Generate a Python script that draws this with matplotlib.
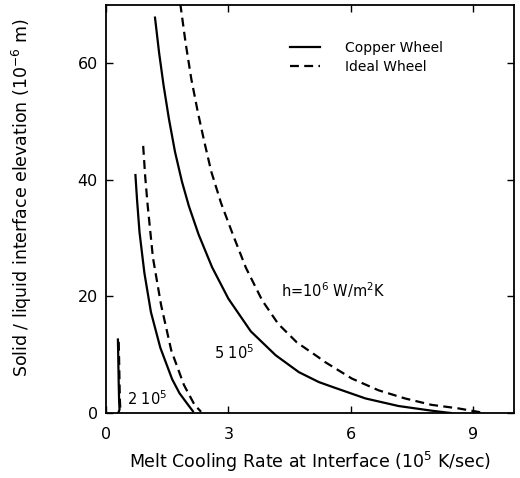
import numpy as np
import matplotlib.pyplot as plt

# ------------------------------------------------------------
# Data (x: 1e5 K/sec, y: 1e-6 m)
# ------------------------------------------------------------
# h = 1e6 W/m2K
cu_1e6_x = [1.20, 1.30, 1.41, 1.54, 1.69, 1.86, 2.03, 2.27, 2.60, 3.00, 3.55, 4.16,
            4.73, 5.22, 5.54, 6.36, 7.17, 7.98, 8.39, 8.46]
cu_1e6_y = [67.8, 61.8, 56.2, 50.5, 44.8, 39.7, 35.5, 30.6, 25.0, 19.6, 14.0, 9.9,
            7.0, 5.3, 4.5, 2.5, 1.2, 0.4, 0.05, 0.0]
id_1e6_x = [1.82, 1.95, 2.09, 2.25, 2.41, 2.58, 2.82, 3.11, 3.43, 3.83, 4.22, 4.68,
            5.18, 5.38, 6.03, 6.68, 7.33, 7.98, 8.63, 9.12, 9.30]
id_1e6_y = [70.2, 63.5, 57.3, 51.6, 46.5, 41.4, 36.0, 30.6, 24.9, 19.3, 15.3, 12.1,
            9.7, 8.7, 5.9, 3.9, 2.5, 1.4, 0.8, 0.2, 0.0]

# h = 5e5
cu_5e5_x = [0.72, 0.76, 0.82, 0.94, 1.10, 1.33, 1.62, 1.80, 1.99, 2.13]
cu_5e5_y = [40.8, 36.5, 31.0, 24.0, 17.3, 11.2, 5.8, 3.4, 1.6, 0.3]
id_5e5_x = [0.91, 0.96, 1.02, 1.15, 1.35, 1.60, 1.91, 2.17, 2.33]
id_5e5_y = [45.8, 40.5, 35.6, 26.6, 18.5, 10.7, 4.8, 1.4, 0.2]

# h = 2e5
cu_2e5_x = [0.29, 0.30, 0.31, 0.32, 0.33, 0.30]
cu_2e5_y = [12.6, 9.0, 5.0, 2.0, 0.6, 0.0]
id_2e5_x = [0.31, 0.32, 0.33, 0.34, 0.35, 0.36]
id_2e5_y = [12.2, 9.0, 5.0, 2.0, 0.6, 0.0]

x_ticks = [0, 3, 6, 9]
y_ticks = [0, 20, 40, 60]

fig = plt.figure(figsize=(5.2, 4.78), dpi=100)
ax = fig.add_axes([0.204, 0.136, 0.784, 0.854])

DASH = (0, (4, 2.4))
LW = 1.6

ax.plot(cu_1e6_x, cu_1e6_y, color='black', lw=LW, label='Copper Wheel')
ax.plot(id_1e6_x, id_1e6_y, color='black', lw=LW, linestyle=DASH, label='Ideal Wheel')
ax.plot(cu_5e5_x, cu_5e5_y, color='black', lw=LW)
ax.plot(id_5e5_x, id_5e5_y, color='black', lw=LW, linestyle=DASH)
ax.plot(cu_2e5_x, cu_2e5_y, color='black', lw=LW)
ax.plot(id_2e5_x, id_2e5_y, color='black', lw=LW, linestyle=DASH)

# curve labels
ax.text(4.3, 21, r'h=10$^6$ W/m$^2$K', fontsize=10.5, va='center')
ax.text(2.65, 10.3, r'5 10$^5$', fontsize=10.5, va='center')
ax.text(0.52, 2.5, r'2 10$^5$', fontsize=10.5, va='center')

ax.set_xlim(0, 10)
ax.set_ylim(0, 70)
ax.set_xticks(x_ticks)
ax.set_yticks(y_ticks)
ax.tick_params(direction='in', length=5, width=1, labelsize=11.5,
               top=True, right=True)
ax.tick_params(axis='x', pad=10)
ax.tick_params(axis='y', pad=6)
for s in ax.spines.values():
    s.set_linewidth(1.3)

ax.set_xlabel(r'Melt Cooling Rate at Interface (10$^5$ K/sec)', fontsize=12.5, labelpad=6)
ax.set_ylabel(r'Solid / liquid interface elevation (10$^{-6}$ m)', fontsize=12.5)
ax.yaxis.set_label_coords(-0.176, 0.527)

ax.legend(loc='upper left', bbox_to_anchor=(0.42, 0.943), frameon=False,
          fontsize=10, handlelength=2.2, handletextpad=1.8, labelspacing=0.4)

fig.savefig('out.png', dpi=100)
